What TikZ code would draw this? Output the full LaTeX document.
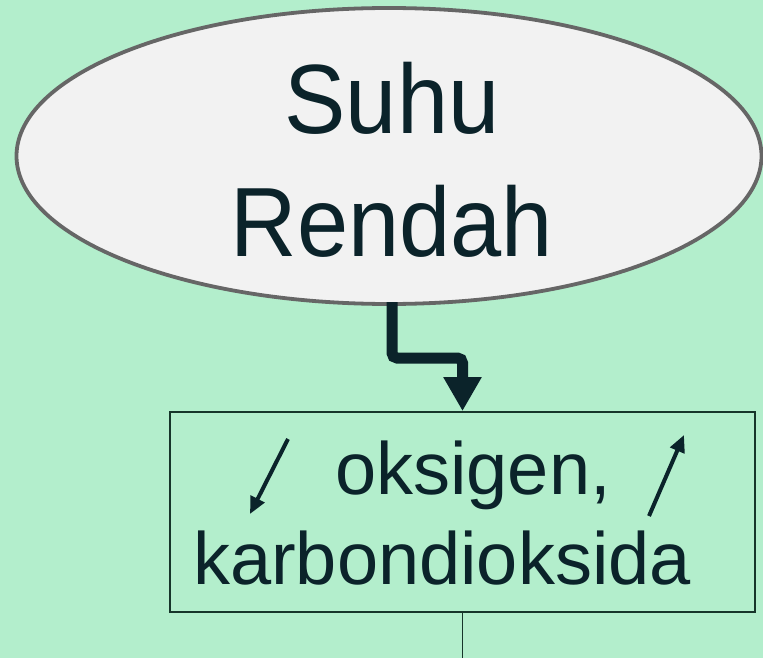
\documentclass[tikz,border=0pt]{standalone}
\usepackage{fontspec}
\setmainfont{Liberation Sans}
\usetikzlibrary{shapes.geometric,arrows.meta}
\definecolor{bgmint}{HTML}{B3EECC}
\definecolor{inkdark}{HTML}{0B232A}
\definecolor{ellfill}{HTML}{F2F2F2}
\definecolor{ellline}{HTML}{666666}
\definecolor{boxline}{HTML}{16352A}
\tikzset{
  ovalnode/.style={ellipse, draw=ellline, line width=3.8pt, fill=ellfill, minimum width=745pt, minimum height=296pt, inner sep=0pt},
  boxnode/.style={rectangle, draw=boxline, line width=1.8pt, minimum width=585pt, minimum height=200pt, inner sep=0pt},
  bigtext/.style={text=inkdark, font=\fontsize{92}{115}\selectfont, align=center, inner sep=0pt},
  boxtext/.style={text=inkdark, font=\fontsize{74}{90}\selectfont, inner sep=0pt, anchor=base west},
  thickflow/.style={draw=inkdark, line width=11pt, rounded corners=5pt, -{Triangle[width=36pt,length=34pt]}},
  smallarrow/.style={draw=inkdark, line width=4pt, -{Triangle[width=15pt,length=17pt]}},
  thinline/.style={draw=boxline, line width=1.8pt}
}
\begin{document}
\begin{tikzpicture}[x=1pt,y=-1pt]
\fill[bgmint] (0,0) rectangle (763,658);
\useasboundingbox (0,0) rectangle (763,658);
\node[ovalnode] (ell) at (389,156) {};
\node[bigtext, yscale=1.07, transform shape] (elltext) at (392,160) {Suhu\\Rendah};
\node[boxnode] (box) at (462.5,512) {};
\node[boxtext] (l1) at (335,494) {oksigen,};
\node[boxtext] (l2) at (193,584) {karbondioksida};
\coordinate (bend) at (462.5,358);
\coordinate (ellfoot) at (392,302);
\draw[thickflow] (ellfoot) |- (bend) -- (box.north);
\coordinate (a1s) at (288,439);
\coordinate (a1e) at (250,514);
\coordinate (a2s) at (649,516);
\coordinate (a2e) at (684,435);
\draw[smallarrow] (a1s) -- (a1e);
\draw[smallarrow] (a2s) -- (a2e);
\coordinate (bottomend) at (462.5,658);
\draw[thinline] (box.south) -- (bottomend);
\end{tikzpicture}
\end{document}
